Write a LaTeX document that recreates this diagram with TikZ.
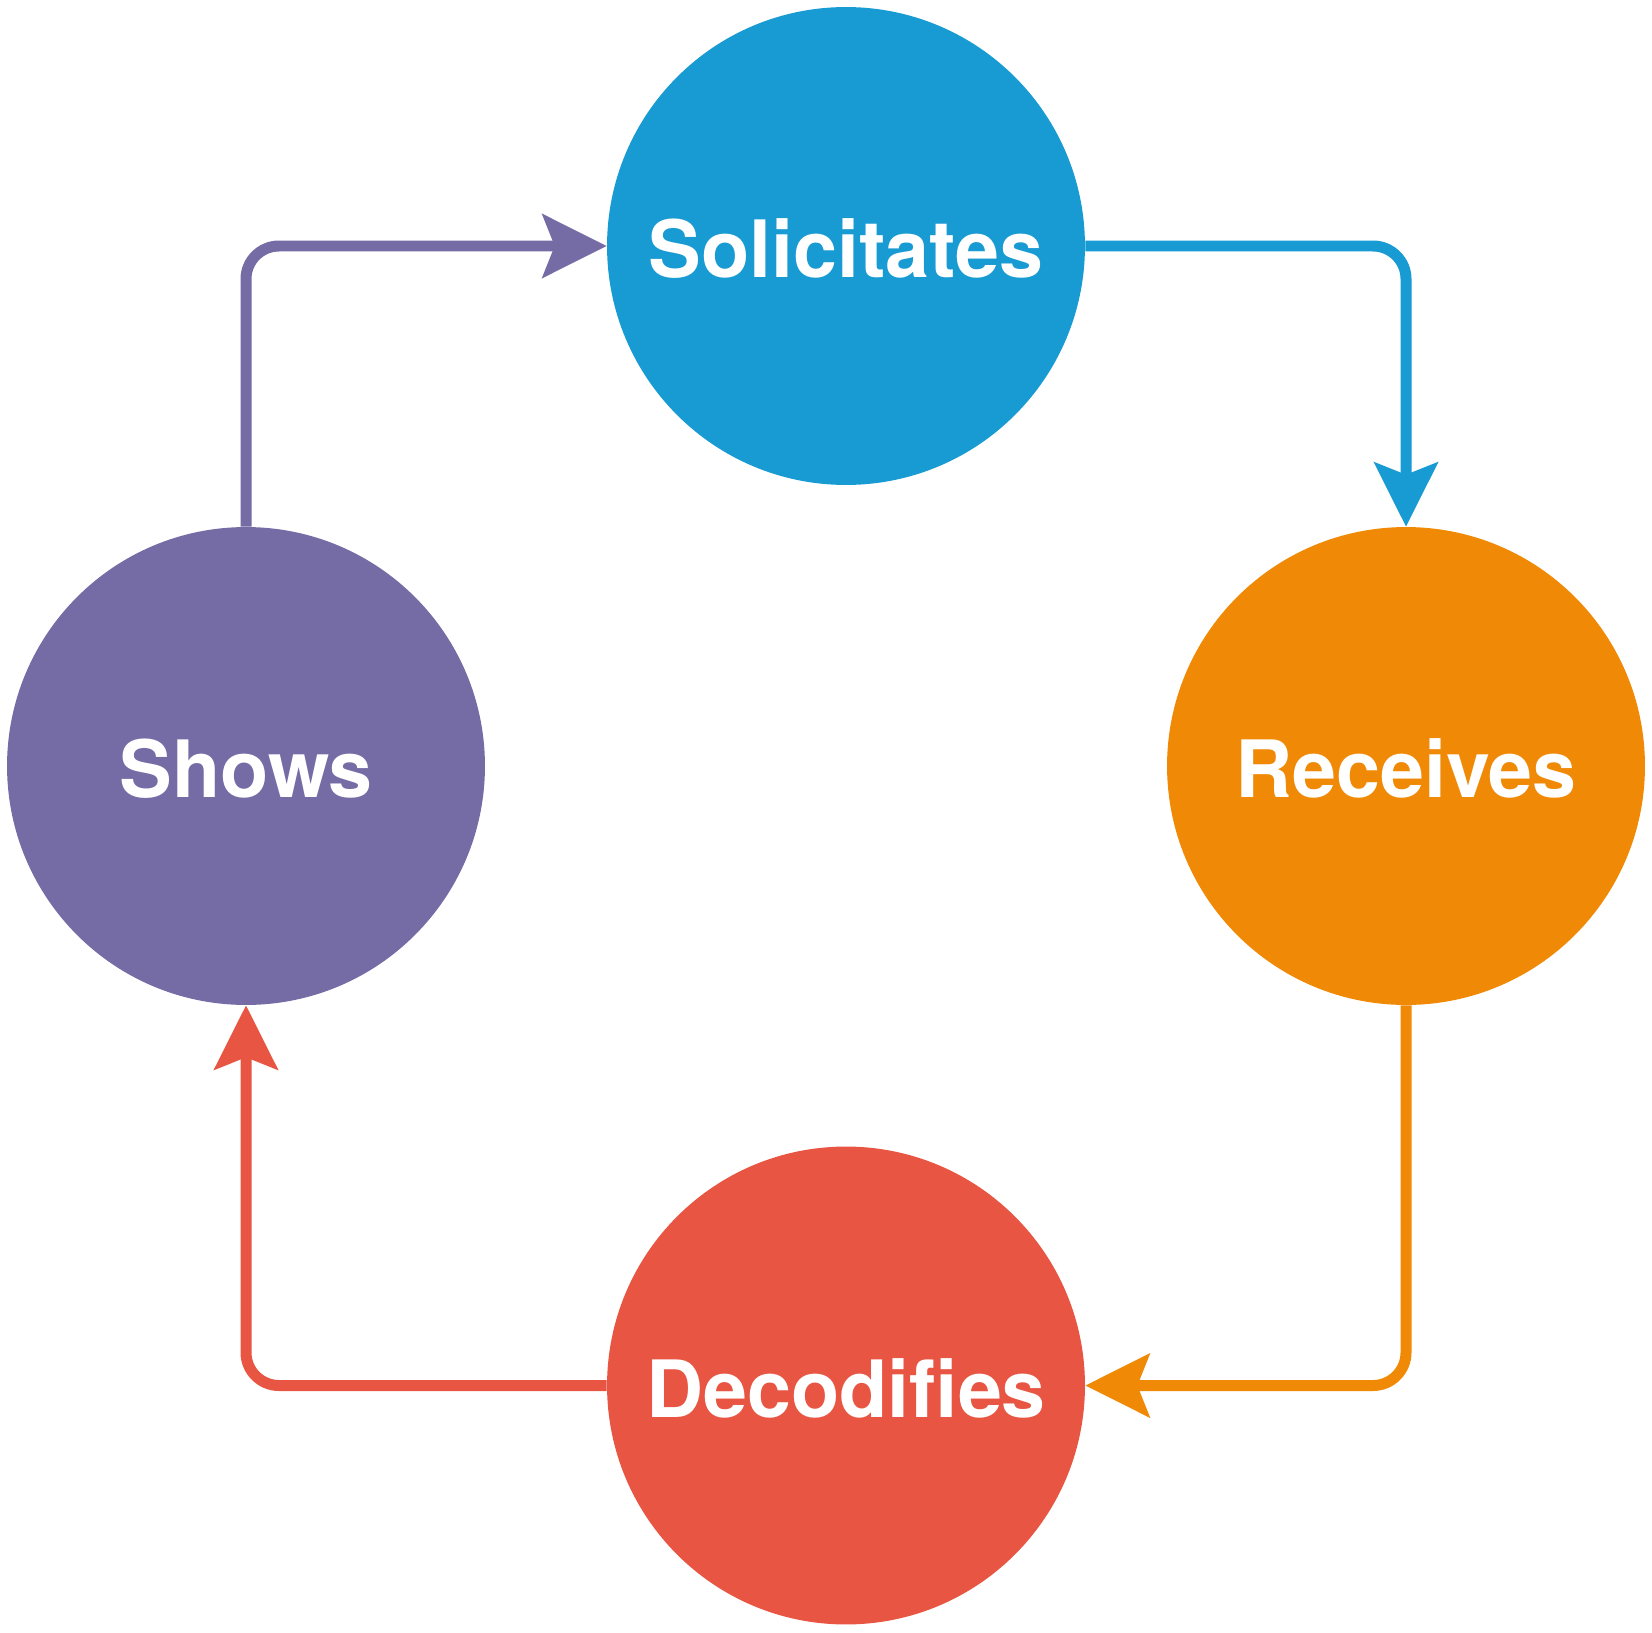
\documentclass[tikz,border=0pt]{standalone}
\usepackage{fontspec}
\setmainfont{TeX Gyre Heros}
\usetikzlibrary{arrows.meta}

\definecolor{solblue}{RGB}{24,154,211}
\definecolor{recorange}{RGB}{240,137,5}
\definecolor{decred}{RGB}{232,85,67}
\definecolor{showpurple}{RGB}{117,108,166}

\begin{document}
\begin{tikzpicture}[x=0.02cm,y=-0.02cm,>={Stealth[length=1.28cm,width=1.26cm,inset=0.24cm]},
  stage/.style={circle,minimum size=9.56cm,inner sep=0pt,text=white,text height=1.27cm,text depth=0pt,
    font=\fontsize{45}{50}\selectfont\bfseries},
  flow/.style={->,line width=0.22cm,rounded corners=0.66cm}]
\useasboundingbox (0,0) rectangle (1652,1632);
\node [stage,fill=solblue]    (Sol)   at (846,246)    {Solicitates};
\node [stage,fill=recorange]  (Rec)   at (1406,766)   {Receives};
\node [stage,fill=decred]     (Dec)   at (846,1385.5) {Decodifies};
\node [stage,fill=showpurple] (Shows) at (246,766)    {Shows};
\draw [flow,solblue]    (Sol.east)    -| (Rec.north);
\draw [flow,recorange]  (Rec.south)   |- (Dec.east);
\draw [flow,decred]     (Dec.west)    -| (Shows.south);
\draw [flow,showpurple] (Shows.north) |- (Sol.west);
\end{tikzpicture}
\end{document}
